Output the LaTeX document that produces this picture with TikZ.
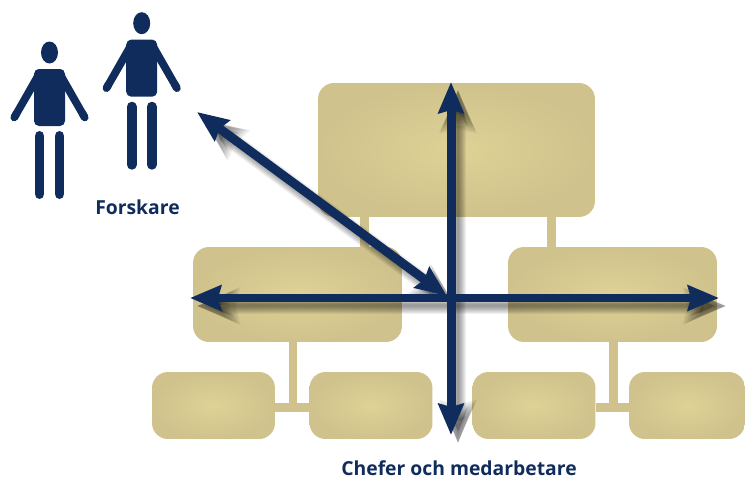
\documentclass[tikz,border=0pt]{standalone}
\usepackage{fontspec}
\setmainfont{Open Sans}
\usepackage{xcolor}
\usepackage{tikz}
\usetikzlibrary{arrows.meta, shapes.geometric}
\definecolor{orgtan}{RGB}{207,194,140}
\definecolor{orglight}{RGB}{222,210,150}
\definecolor{chefblue}{RGB}{16,44,92}

\tikzset{
  orgbox/.style={rectangle, rounded corners=0.32cm, inner sep=0pt, minimum height=1.34cm, minimum width=2.46cm, inner color=orglight, outer color=orgtan},
  orgline/.style={draw=orgtan, line width=0.18cm},
  reachline/.style={line width=0.18cm, {Stealth[length=6.2mm,width=5mm,inset=0.6mm]}-{Stealth[length=6.2mm,width=5mm,inset=0.6mm]}},
  reachshade/.style={line width=#1 cm, {Stealth[length=0.5cm+#1cm,width=0.36cm+#1cm,inset=0.6mm]}-{Stealth[length=0.5cm+#1cm,width=0.36cm+#1cm,inset=0.6mm]}},
  caption/.style={font=\bfseries\fontsize{11}{13}\selectfont, text=chefblue, inner sep=0pt},
  person/.pic={
    \fill[chefblue] (0,-16.5) ellipse [x radius=8.5, y radius=11];
    \fill[chefblue, rounded corners=0.1cm] (-15.5,0) rectangle (15.5,57);
    \foreach \s in {-1,1} {
      \fill[chefblue] (\s*12,0) -- (\s*38.5,46.5) -- (\s*32,50.5) -- (\s*15.5,22) -- cycle;
      \draw[chefblue, line width=0.152cm, line cap=round] (\s*33,44.5) -- (\s*35.25,48.5);
      \draw[chefblue, line width=0.2cm, line cap=round] (\s*10,67) -- (\s*10,125);
    }
  }
}

\begin{document}
\begin{tikzpicture}[x=0.02cm, y=-0.02cm]
  \useasboundingbox (0,0) rectangle (745,480);

  % organisation
  \node[orgbox, minimum width=5.54cm, minimum height=2.68cm] (chef) at (456.5,150) {};
  \node[orgbox, minimum width=4.18cm, minimum height=1.9cm] (midl) at (297.5,294.5) {};
  \node[orgbox, minimum width=4.18cm, minimum height=1.9cm] (midr) at (612.5,294.5) {};
  \node[orgbox] (lowa) at (213.5,405.5) {};
  \node[orgbox] (lowb) at (371,405.5) {};
  \node[orgbox] (lowc) at (534,405.5) {};
  \node[orgbox, minimum width=2.32cm] (lowd) at (687,405.5) {};

  \coordinate (jointl) at (364.5,230);
  \coordinate (jointr) at (551,230);
  \coordinate (jointa) at (293,355);
  \coordinate (jointb) at (613,355);
  \draw[orgline] (jointl |- chef.south) -- (jointl |- midl.north);
  \draw[orgline] (jointr |- chef.south) -- (jointr |- midr.north);
  \draw[orgline] (jointa |- midl.south) -- (jointa |- lowa.east);
  \draw[orgline] (jointb |- midr.south) -- (jointb |- lowc.east);
  \draw[orgline] ([yshift=-0.04cm]lowa.east) -- ([yshift=-0.04cm]lowb.west);
  \draw[orgline] ([yshift=-0.04cm]lowc.east) -- ([yshift=-0.04cm]lowd.west);

  % researchers
  \pic at (49.5,69) {person};
  \pic at (141.7,39.7) {person};
  \node[caption] (forskare) at (137.5,207) {Forskare};
  \node[caption] (chefer) at (459,468) {Chefer och medarbetare};

  % arrows
  \coordinate (west) at (190,298);
  \coordinate (east) at (719,298);
  \coordinate (north) at (451,82);
  \coordinate (south) at (451,435);
  \coordinate (cross) at (447,296);
  \coordinate (team) at (197,112);

  \foreach \w in {0.34,0.30,0.26,0.22,0.18,0.14,0.10,0.06} {
    \begin{scope}[transform canvas={xshift=0.14cm, yshift=-0.16cm}, black, opacity=0.06]
      \draw[reachshade=\w] (west) -- (east);
      \draw[reachshade=\w] (north) -- (south);
      \draw[reachshade=\w] (team) -- (cross);
    \end{scope}
  }
  \draw[reachline, chefblue] (west) -- (east);
  \draw[reachline, chefblue] (north) -- (south);
  \draw[reachline, chefblue] (team) -- (cross);
\end{tikzpicture}
\end{document}
